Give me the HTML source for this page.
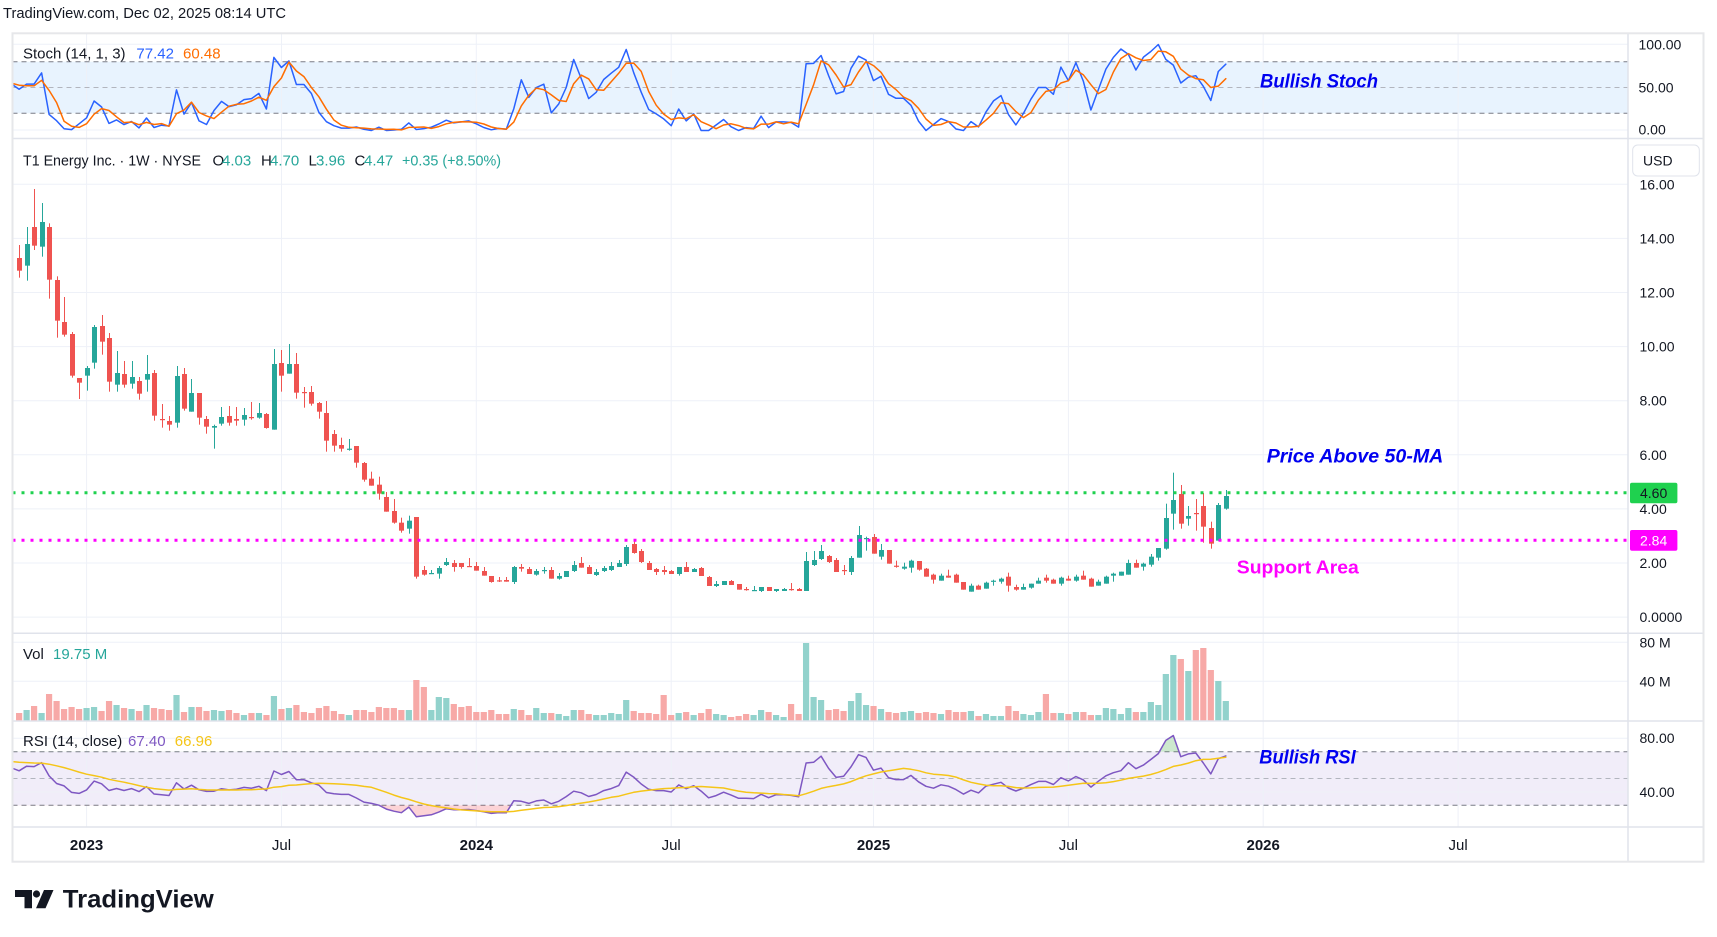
<!DOCTYPE html>
<html><head><meta charset="utf-8">
<style>
html,body{margin:0;padding:0;background:#fff;overflow:hidden;}
svg{display:block;}
text{font-family:"Liberation Sans",Arial,sans-serif;}
</style></head>
<body>
<svg id="c" width="1717" height="937" viewBox="0 0 1717 937" xmlns="http://www.w3.org/2000/svg">
<defs>
 <clipPath id="stc"><rect x="12.5" y="34" width="1615.5" height="104"/></clipPath>
 <clipPath id="rsc"><rect x="12.5" y="721.5" width="1615.5" height="105.5"/></clipPath>
 <clipPath id="ob"><rect x="12.5" y="721.5" width="1615.5" height="30.2"/></clipPath>
 <clipPath id="os"><rect x="12.5" y="805.3" width="1615.5" height="22"/></clipPath>
 <clipPath id="mc"><rect x="12.5" y="139" width="1615.5" height="494"/></clipPath>
</defs>
<rect width="1717" height="937" fill="#fff"/>
<rect x="12.5" y="61.7" width="1615.5" height="51.6" fill="#e8f3fe"/>
<rect x="12.5" y="751.7" width="1615.5" height="53.6" fill="#f1edf9"/>
<g id="grid" stroke="#eef1f8" stroke-width="1"></g>
<g id="lv" fill="none" stroke-width="1">
 <line x1="12.5" y1="61.7" x2="1628" y2="61.7" stroke="#787b86" stroke-dasharray="5 4"/>
 <line x1="12.5" y1="87.5" x2="1628" y2="87.5" stroke="#b2b5be" stroke-dasharray="5 4"/>
 <line x1="12.5" y1="113.3" x2="1628" y2="113.3" stroke="#787b86" stroke-dasharray="5 4"/>
 <line x1="12.5" y1="751.7" x2="1628" y2="751.7" stroke="#787b86" stroke-dasharray="5 4"/>
 <line x1="12.5" y1="778.5" x2="1628" y2="778.5" stroke="#b2b5be" stroke-dasharray="5 4"/>
 <line x1="12.5" y1="805.3" x2="1628" y2="805.3" stroke="#787b86" stroke-dasharray="5 4"/>
</g>
<g id="vol"></g>
<g id="candles" clip-path="url(#mc)"></g>
<g id="rsi" clip-path="url(#rsc)"></g>
<g id="stoch" clip-path="url(#stc)"></g>
<line x1="12.5" y1="492.7" x2="1628" y2="492.7" stroke="#1fd14f" stroke-width="3" stroke-dasharray="3 6"/>
<line x1="12.5" y1="540.3" x2="1628" y2="540.3" stroke="#ff00ff" stroke-width="3" stroke-dasharray="3 6"/>
<g stroke="#e0e3eb" stroke-width="1.5" fill="none">
 <line x1="12.5" y1="138.5" x2="1703.5" y2="138.5"/>
 <line x1="12.5" y1="633.3" x2="1703.5" y2="633.3"/>
 <line x1="12.5" y1="721" x2="1703.5" y2="721"/>
 <line x1="12.5" y1="827" x2="1703.5" y2="827"/>
 <line x1="1628" y1="33.3" x2="1628" y2="861.7"/>
 <rect x="12.5" y="33.3" width="1691" height="828.4" stroke="#e6e7ea" stroke-width="2"/>
</g>
<g font-size="14" fill="#131722">
 <text x="1638.5" y="49.5">100.00</text>
 <text x="1638.5" y="92.5">50.00</text>
 <text x="1638.5" y="134.5">0.00</text>
 <text x="1639.5" y="189.3">16.00</text>
 <text x="1639.5" y="243.4">14.00</text>
 <text x="1639.5" y="297.5">12.00</text>
 <text x="1639.5" y="351.6">10.00</text>
 <text x="1639.5" y="405.7">8.00</text>
 <text x="1639.5" y="459.8">6.00</text>
 <text x="1639.5" y="513.9">4.00</text>
 <text x="1639.5" y="568">2.00</text>
 <text x="1639.5" y="622.1">0.0000</text>
 <text x="1639.5" y="647.3">80 M</text>
 <text x="1639.5" y="686.3">40 M</text>
 <text x="1639.5" y="742.8">80.00</text>
 <text x="1639.5" y="797">40.00</text>
</g>
<rect x="1632.7" y="145" width="66.6" height="31" rx="5" fill="#fff" stroke="#e0e3eb" stroke-width="1"/>
<text x="1643" y="165.5" font-size="14" fill="#131722">USD</text>
<rect x="1630" y="482.7" width="47.4" height="20.6" rx="2" fill="#1fd14f"/>
<text x="1640" y="498" font-size="14" fill="#131722">4.60</text>
<rect x="1630" y="530" width="47.4" height="20.7" rx="2" fill="#ff00ff"/>
<text x="1640" y="545.5" font-size="14" fill="#ffffff">2.84</text>
<text x="3" y="18" font-size="15" fill="#131722" textLength="283" lengthAdjust="spacingAndGlyphs">TradingView.com, Dec 02, 2025 08:14 UTC</text>
<g font-size="15">
 <text x="23" y="58.5" fill="#131722">Stoch (14, 1, 3)</text>
 <text x="136.4" y="58.5" fill="#2962ff">77.42</text>
 <text x="183" y="58.5" fill="#ff6d00">60.48</text>
 <text x="23" y="165.5" fill="#131722" textLength="178" lengthAdjust="spacingAndGlyphs">T1 Energy Inc. · 1W · NYSE</text>
 <text x="212.5" y="165.5" fill="#131722">O</text>
 <text x="222" y="165.5" fill="#26a69a">4.03</text>
 <text x="261" y="165.5" fill="#131722">H</text>
 <text x="270" y="165.5" fill="#26a69a">4.70</text>
 <text x="308.5" y="165.5" fill="#131722">L</text>
 <text x="316" y="165.5" fill="#26a69a">3.96</text>
 <text x="354.5" y="165.5" fill="#131722">C</text>
 <text x="364" y="165.5" fill="#26a69a">4.47</text>
 <text x="402" y="165.5" fill="#26a69a" textLength="99" lengthAdjust="spacingAndGlyphs">+0.35 (+8.50%)</text>
 <text x="23" y="659" fill="#131722">Vol</text>
 <text x="53" y="659" fill="#26a69a">19.75 M</text>
 <text x="23" y="746" fill="#131722">RSI (14, close)</text>
 <text x="128" y="746" fill="#7e57c2">67.40</text>
 <text x="174.8" y="746" fill="#f5c518">66.96</text>
</g>
<text x="1260" y="87.3" font-size="19" font-weight="bold" font-style="italic" fill="#0000f0" textLength="118" lengthAdjust="spacingAndGlyphs">Bullish Stoch</text>
<text x="1266.7" y="462.3" font-size="19.5" font-weight="bold" font-style="italic" fill="#0000f0" textLength="176.6" lengthAdjust="spacingAndGlyphs">Price Above 50-MA</text>
<text x="1259.3" y="763.3" font-size="19" font-weight="bold" font-style="italic" fill="#0000f0" textLength="96.4" lengthAdjust="spacingAndGlyphs">Bullish RSI</text>
<text x="1236.8" y="573.3" font-size="18.5" font-weight="bold" fill="#ff00ff" textLength="122" lengthAdjust="spacingAndGlyphs">Support Area</text>
<g font-size="15" fill="#131722" text-anchor="middle">
 <text x="86.6" y="850" font-weight="bold">2023</text>
 <text x="281.5" y="850">Jul</text>
 <text x="476.3" y="850" font-weight="bold">2024</text>
 <text x="671.2" y="850">Jul</text>
 <text x="873.5" y="850" font-weight="bold">2025</text>
 <text x="1068.4" y="850">Jul</text>
 <text x="1263.2" y="850" font-weight="bold">2026</text>
 <text x="1458.1" y="850">Jul</text>
</g>
<g fill="#131722">
 <path d="M15 890 H32 V908.3 H24.5 V897 H15 Z"/>
 <circle cx="36.5" cy="894" r="3.6"/>
 <path d="M44 890 H53.5 L45.5 908.3 H36 Z"/>
</g>
<text x="62.8" y="907.3" font-size="25" font-weight="bold" fill="#131722" textLength="151" lengthAdjust="spacingAndGlyphs">TradingView</text>
</svg>
<script>
(function(){
const NS='http://www.w3.org/2000/svg';
function el(tag,attrs,parent){const e=document.createElementNS(NS,tag);for(const k in attrs)e.setAttribute(k,attrs[k]);parent.appendChild(e);return e;}
const X=k=>476.3+(k-61)*7.495;
const P=y=>16-(y-184.3)/27.05;
const grid=document.getElementById('grid');
[86.6,281.5,476.3,671.2,873.5,1068.4,1263.2,1458.1].forEach(x=>el('line',{x1:x,y1:33.5,x2:x,y2:827},grid));
[44.3,130,184.3,238.4,292.5,346.6,400.7,454.8,508.9,563,617.1,642.3,681.3,738.3,792].forEach(y=>el('line',{x1:12.5,y1:y,x2:1628,y2:y},grid));
const segs=[
[180,["R234 272 195 293","G192 257 141 302","R141 197 27 210","G126 200 69 230","R141 299 130 356","R300 422 289 473","R426 464 351 470","R462 587 456 593","R594 608 594 657","G564 587 558 632",
"G441 548 435 566","R438 485 405 524","R474 605 459 635","G579 614 513 635","R582 614 543 623","G591 611 543 626","R603 641 591 659","G582 599 525 635","R579 707 570 722","R717 719 672 743",
"R723 734 708 752","G588 728 558 743","R582 686 564 692","G639 695 597 695","R639 713 639 734","R717 740 708 761","G738 743 734 806","G711 731 681 737","R708 728 678 737","R717 722 681 737",
"G705 719 684 737","R711 714 666 719","G699 713 669 716","R702 744 699 746","G552 749 507 749","R549 587 510 635","G552 581 492 581","R552 638 519 656","R636 638 621 683","R636 671 618 677",
"R669 695 666 716","R699 782 663 815","R762 797 750 815","R795 806 773 815","G806 808 777 812","R798 848 798 863","R849 899 846 905","R896 917 875 917","R914 941 890 959","R951 995 936 995",
"R993 1028 957 1031","R1028 1052 1013 1058","G1022 1046 1007 1061","R1011 1190 1011 1196","R1170 1184 1158 1187","G1179 1181 1170 1181","G1164 1181 1158 1196","G1146 1155 1134 1158","R1149 1161 1140 1175","R1149 1161 1149 1166",
"R1158 1160 1134 1161"]],
[505,["R183 197 171 197","R198 212 186 212","R213 231 213 233","R226 228 216 231","R225 230 216 230","G186 231 183 237","R186 191 177 200","R192 207 186 207","G198 209 192 212","G195 197 186 206",
"R195 221 186 221","G213 221 204 224","G198 216 198 216","G180 198 168 201","R174 188 156 188","R186 207 180 207","G201 210 192 213","G189 198 183 201","G183 195 171 198","G174 186 165 186",
"G126 177 120 183","R117 144 105 146","R138 171 132 174","R174 195 168 195","R192 201 189 210","R195 201 183 209","R198 207 195 207","G186 207 186 212","R186 201 171 201","G192 201 189 201",
"R189 213 186 213","R216 243 213 243","G237 243 228 246","G228 240 228 240","R228 240 225 240","R237 254 237 254","R252 254 246 257","G255 257 243 257","G246 258 246 261","R246 258 246 258",
"G252 258 252 261","G252 258 249 258","R252 254 234 257","R252 258 249 258","G168 258 141 258","G165 180 138 183","G138 162 120 165","R153 171 150 174","R165 201 159 201","R195 197 180 210",
"G159 201 153 210"]],
[420,["G345 413 318 413","G354 356 350 392","R351 401 342 401","G390 410 372 419","R390 431 390 431","R437 440 422 443","G440 446 428 449","G422 443 419 458","R423 449 423 452","R446 470 444 470",
"R464 479 461 491","G467 482 461 482","R467 473 449 473","R464 488 461 488","R486 509 486 509","G497 515 491 515","R497 509 494 509","G488 506 485 506","G482 485 479 497","G476 485 473 491",
"R470 497 458 515","R501 509 494 512","G501 509 491 509","G491 503 491 506","G482 491 473 491","R473 482 464 488","R479 491 476 491","G473 491 470 497","R476 482 467 482","G470 482 464 485",
"R467 479 452 479","R476 500 473 500","G485 497 479 497","G470 491 467 491","G461 467 458 485","G455 467 455 467","G429 464 419 464","R429 443 419 443","G431 440 428 452","G410 434 402 440",
"G384 413 384 422","G294 386 251 389","G240 281 158 329","R222 311 195 326","G288 296 258 317","R279 281 237 332","R258 320 219 368","R324 371 305 386","G255 362 249 362","G228 266 210 269"]]
];
const bars=[];
segs.forEach(([off,arr])=>{arr.forEach(s=>{const g=s[0]==='G';const v=s.slice(1).split(' ').map(Number).map(p=>off+p/3);
 const bt=v[0],bb=v[1],wt=Math.min(v[2],v[0]),wb=Math.max(v[3],v[1]);
 bars.push({g,bt,bb,wt,wb,o:P(g?bb:bt),c:P(g?bt:bb),h:P(wt),l:P(wb)});});});
const vol=[8,11,15,8,27,20,12,14,12,13,14,10,20,16,13,12,10,16,13,12,11,26,9,14,14,10,11,10,11,8,6,8,8,6,25,12,13,16,9,8,13,15,10,7,6,11,11,9,14,13,13,11,11,41,34,11,24,23,17,14,15,9,9,11,7,7,12,11,6,13,8,8,
7,5,11,11,7,6,6,8,7,21,10,8,8,7,26,6,8,9,6,8,12,7,6,4,5,7,6,11,9,6,4,17,7,78,24,21,11,12,10,20,28,16,15,12,9,8,9,10,8,9,8,7,11,9,9,10,5,7,5,5,15,10,7,6,9,27,8,8,7,9,9,6,6,13,12,7,13,9,9,19,16,47,66,62,50,71,73,51,40,20];
const gv=document.getElementById('vol'),gc=document.getElementById('candles');
bars.forEach((b,k)=>{const x=X(k);const h=vol[k]||0;
 el('rect',{x:(x-3.1).toFixed(2),y:(721-h).toFixed(2),width:6.2,height:h,fill:b.g?'#92d2cc':'#f7a9a7'},gv);
 const col=b.g?'#26a69a':'#ef5350';const xc=Math.round(x);
 el('rect',{x:xc,y:b.wt.toFixed(2),width:1,height:Math.max(1,b.wb-b.wt).toFixed(2),fill:col},gc);
 el('rect',{x:xc-2,y:b.bt.toFixed(2),width:5,height:Math.max(1.2,b.bb-b.bt).toFixed(2),fill:col},gc);
});
const syn=13;const Hs=[],Ls=[],Cs=[];
for(let i=0;i<syn;i++){Hs.push(13.5);Ls.push(11.7);Cs.push(12.6);}
bars.forEach(b=>{Hs.push(b.h);Ls.push(b.l);Cs.push(b.c);});
const K=[];
for(let i=0;i<Cs.length;i++){const a=Math.max(0,i-13);let hh=-1e9,ll=1e9;for(let j=a;j<=i;j++){hh=Math.max(hh,Hs[j]);ll=Math.min(ll,Ls[j]);}K.push(hh>ll?100*(Cs[i]-ll)/(hh-ll):50);}
const ov=[54,48,54,54,67];ov.forEach((v,j)=>{K[syn-1+j]=v;});
K[syn-2]=56;K[syn-3]=55;
const Dd=K.map((v,i)=>i<2?v:(K[i]+K[i-1]+K[i-2])/3);
const gs=document.getElementById('stoch');
function pl(pts,stroke,w,parent){el('polyline',{points:pts.map(p=>p[0].toFixed(1)+','+p[1].toFixed(1)).join(' '),fill:'none',stroke:stroke,'stroke-width':w,'stroke-linejoin':'round','stroke-linecap':'round'},parent);}
const sy=v=>130.5-v*0.86;
const kp=[],dp=[];
for(let i=syn-1;i<K.length;i++){kp.push([X(i-syn),sy(K[i])]);dp.push([X(i-syn),sy(Dd[i])]);}
pl(kp,'#2962ff',1.5,gs);pl(dp,'#ff6d00',1.5,gs);
let ag=0.55,al=0.40,prev=bars[0].o;
const Rall=[];for(let i=0;i<13;i++)Rall.push(63);
Rall.push(100-100/(1+ag/al));
bars.forEach(b=>{const ch=b.c-prev;ag=(ag*13+Math.max(ch,0))/14;al=(al*13+Math.max(-ch,0))/14;Rall.push(100-100/(1+ag/al));prev=b.c;});
const ry=r=>805.3-(r-30)*1.34;
const rp=[],mp=[];
for(let i=13;i<Rall.length;i++){let s=0;for(let j=i-13;j<=i;j++)s+=Rall[j];const k=i-14;rp.push([X(k),ry(Rall[i])]);mp.push([X(k),ry(s/14)]);}
const gr=document.getElementById('rsi');
const area=(pts,yl)=>pts.map(p=>p[0].toFixed(1)+','+p[1].toFixed(1)).join(' ')+' '+pts[pts.length-1][0].toFixed(1)+','+yl+' '+pts[0][0].toFixed(1)+','+yl;
const go=el('g',{'clip-path':'url(#ob)'},gr);el('polygon',{points:area(rp,751.7),fill:'rgba(76,175,80,0.28)'},go);
const gu=el('g',{'clip-path':'url(#os)'},gr);el('polygon',{points:area(rp,805.3),fill:'rgba(242,54,69,0.22)'},gu);
pl(rp,'#7e57c2',1.5,gr);pl(mp,'#f5c518',1.5,gr);
})();
</script>
</body></html>
